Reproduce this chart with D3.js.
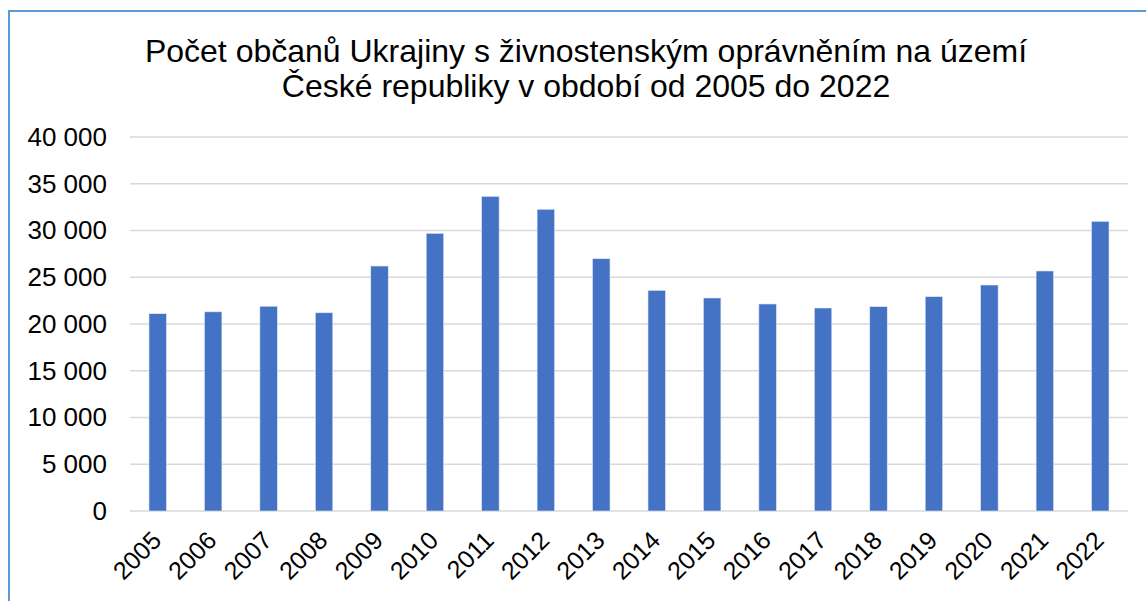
<!DOCTYPE html>
<html>
<head>
<meta charset="utf-8">
<script src="https://cdn.jsdelivr.net/npm/d3@7"></script>
<style>
	body { margin: 0; background: #fff; }
	text { font-family: 'Liberation Sans', Arial, sans-serif; fill: #000; }
</style>
</head>
<body>
<div id="chart"></div>
<script>
const years = ['2005', '2006', '2007', '2008', '2009', '2010', '2011', '2012', '2013',
	'2014', '2015', '2016', '2017', '2018', '2019', '2020', '2021', '2022'];
const entrepreneurs = [21100, 21300, 21900, 21200, 26200, 29700, 33650, 32270, 26980,
	23600, 22780, 22140, 21710, 21850, 22920, 24170, 25670, 30980];
const yTicks = [0, 5000, 10000, 15000, 20000, 25000, 30000, 35000, 40000];
const titleLines = [
	'Počet občanů Ukrajiny s živnostenským oprávněním na území',
	'České republiky v období od 2005 do 2022',
];

const width = 1146;
const height = 601;
const plotLeft = 130;
const plotRight = 1128;
const plotTop = 137;
const plotBottom = 511;

const svg = d3
	.select('#chart')
	.append('svg')
	.attr('width', width)
	.attr('height', height);

// frame of the chart area
svg
	.append('rect')
	.attr('x', 9)
	.attr('y', 11)
	.attr('width', width + 20)
	.attr('height', height + 20)
	.attr('fill', 'none')
	.attr('stroke', '#5B9BD5')
	.attr('stroke-width', 2);

svg
	.append('g')
	.selectAll('text')
	.data(titleLines)
	.join('text')
	.attr('x', 586)
	.attr('y', (d, i) => 62 + i * 35)
	.attr('text-anchor', 'middle')
	.style('font-size', '32px')
	.text((d) => d);

const x = d3
	.scaleBand()
	.domain(years)
	.range([plotLeft, plotRight])
	.paddingInner(0.685)
	.paddingOuter(0.3425);

const y = d3.scaleLinear().domain([0, 40000]).range([plotBottom, plotTop]);

const fmt = (v) => d3.format(',')(v).replace(/,/g, ' ');

// gridlines
svg
	.append('g')
	.selectAll('line')
	.data(yTicks)
	.join('line')
	.attr('x1', plotLeft)
	.attr('x2', plotRight)
	.attr('y1', (d) => y(d))
	.attr('y2', (d) => y(d))
	.attr('stroke', '#d9d9d9')
	.attr('stroke-width', 1.5);

const yAxis = svg
	.append('g')
	.attr('transform', `translate(${plotLeft},0)`)
	.call(d3.axisLeft(y).tickValues(yTicks).tickSize(0).tickPadding(23).tickFormat(fmt));
yAxis.select('.domain').remove();
yAxis.selectAll('text').style('font-size', '26px').attr('fill', '#000');

svg
	.append('g')
	.selectAll('rect')
	.data(entrepreneurs)
	.join('rect')
	.attr('x', (d, i) => x(years[i]))
	.attr('width', x.bandwidth())
	.attr('y', (d) => y(d))
	.attr('height', (d) => y(0) - y(d))
	.attr('fill', '#4472C4')
	.attr('stroke', '#dfe7f5')
	.attr('stroke-width', 0.6);

const xAxis = svg
	.append('g')
	.attr('transform', `translate(0,${plotBottom})`)
	.call(d3.axisBottom(x).tickSize(0).tickPadding(0));
xAxis.select('.domain').remove();
xAxis
	.selectAll('text')
	.style('font-size', '25px')
	.attr('fill', '#000')
	.attr('text-anchor', 'end')
	.attr('dy', 0)
	.attr('transform', 'translate(5,31) rotate(-45)');
</script>
</body>
</html>
